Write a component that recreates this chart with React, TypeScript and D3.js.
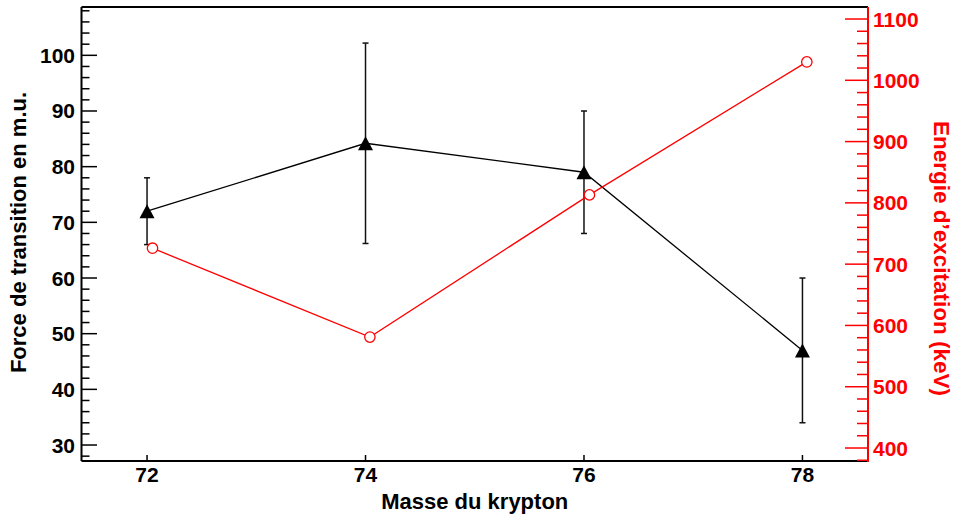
import * as d3 from 'd3';

// Données
const masses = [72, 74, 76, 78];
const forceValues = [72, 84.2, 79, 47];
const forceErrors = [6, 18, 11, 13];
const energyMasses = [72.05, 74.04, 76.05, 78.04];
const energyValues = [726, 581, 813, 1030];

const xTicks = [72, 74, 76, 78];
const leftTicks = [30, 40, 50, 60, 70, 80, 90, 100];
const rightTicks = [400, 500, 600, 700, 800, 900, 1000, 1100];

const W = 957;
const H = 518;
const plot = { left: 81.5, right: 868, top: 7, bottom: 461 };
const FONT = '"Liberation Sans", Arial, Helvetica, sans-serif';
const RED = '#ff0000';

export default function App() {
    const x = d3.scaleLinear().domain([71.4, 78.6]).range([plot.left, plot.right]);
    const yL = d3.scaleLinear().domain([27.13, 108.68]).range([plot.bottom, plot.top]);
    const yR = d3.scaleLinear().domain([378.8, 1119.6]).range([plot.bottom, plot.top]);

    // graduations secondaires
    const leftMinor = d3.range(28, 109, 2).filter((v) => v % 10 !== 0 && yL(v) >= plot.top);
    const rightMinor = d3.range(380, 1120, 20).filter((v) => v % 100 !== 0 && yR(v) >= plot.top);

    const forceData = masses.map((m, i) => ({ m, v: forceValues[i], e: forceErrors[i] }));
    const energyData = energyMasses.map((m, i) => ({ m, v: energyValues[i] }));

    const forceLine = d3.line<any>().x((d) => x(d.m)).y((d) => yL(d.v))(forceData) || '';
    const energyLine = d3.line<any>().x((d) => x(d.m)).y((d) => yR(d.v))(energyData) || '';

    const tri = 'M0,-7L7.5,7L-7.5,7Z';

    return (
        <div style={{ position: 'absolute', left: 0, top: 0 }}>
            <svg width={W} height={H} style={{ display: 'block', background: '#fff' }} fontFamily={FONT}>
                {/* cadre */}
                <line x1={plot.left} x2={plot.right} y1={plot.top} y2={plot.top} stroke="#000" strokeWidth={2} />
                <line x1={plot.left} x2={plot.left} y1={plot.top} y2={plot.bottom} stroke="#000" strokeWidth={2} />
                <line x1={plot.left} x2={plot.right} y1={plot.bottom} y2={plot.bottom} stroke="#000" strokeWidth={2} />

                {/* axe X */}
                {xTicks.map((t) => (
                    <g key={'x' + t}>
                        <line x1={x(t)} x2={x(t)} y1={plot.bottom} y2={plot.bottom - 6} stroke="#000" strokeWidth={1.5} />
                        <text x={x(t)} y={482} textAnchor="middle" fontSize={21} fontWeight="bold">{t}</text>
                    </g>
                ))}
                <text x={(plot.left + plot.right) / 2} y={508.5} textAnchor="middle" fontSize={22} fontWeight="bold">
                    Masse du krypton
                </text>

                {/* axe gauche */}
                {leftTicks.map((t) => (
                    <g key={'l' + t}>
                        <line x1={plot.left} x2={plot.left + 15.5} y1={yL(t)} y2={yL(t)} stroke="#000" strokeWidth={1.5} />
                        <text x={75} y={yL(t) + 7.5} textAnchor="end" fontSize={21} fontWeight="bold">{t}</text>
                    </g>
                ))}
                {leftMinor.map((t) => (
                    <line key={'lm' + t} x1={plot.left} x2={plot.left + 8} y1={yL(t)} y2={yL(t)} stroke="#000" strokeWidth={1.5} />
                ))}
                <text transform={`translate(26,232.5) rotate(-90)`} textAnchor="middle" fontSize={22} fontWeight="bold">
                    Force de transition en m.u.
                </text>

                {/* axe droit (rouge) */}
                <line x1={plot.right} x2={plot.right} y1={plot.top} y2={plot.bottom + 1} stroke={RED} strokeWidth={2} />
                {rightTicks.map((t) => (
                    <g key={'r' + t}>
                        <line x1={plot.right} x2={plot.right - 23} y1={yR(t)} y2={yR(t)} stroke={RED} strokeWidth={1.5} />
                        <text x={873} y={yR(t) + 7.5} fill={RED} fontSize={21} fontWeight="bold">{t}</text>
                    </g>
                ))}
                {rightMinor.map((t) => (
                    <line key={'rm' + t} x1={plot.right} x2={plot.right - 11} y1={yR(t)} y2={yR(t)} stroke={RED} strokeWidth={1.5} />
                ))}
                <text transform={`translate(934,258.5) rotate(90)`} textAnchor="middle" fill={RED} fontSize={22.5} fontWeight="bold">
                    Energie d’excitation (keV)
                </text>

                {/* force de transition avec barres d'erreur */}
                {forceData.map((d) => (
                    <g key={'e' + d.m} stroke="#111" strokeWidth={1.5}>
                        <line x1={x(d.m)} x2={x(d.m)} y1={yL(d.v - d.e)} y2={yL(d.v + d.e)} />
                        <line x1={x(d.m) - 3} x2={x(d.m) + 3} y1={yL(d.v - d.e)} y2={yL(d.v - d.e)} />
                        <line x1={x(d.m) - 3} x2={x(d.m) + 3} y1={yL(d.v + d.e)} y2={yL(d.v + d.e)} />
                    </g>
                ))}
                <path d={forceLine} fill="none" stroke="#000" strokeWidth={1.3} />

                {/* énergie d'excitation */}
                <path d={energyLine} fill="none" stroke={RED} strokeWidth={1.3} />
                {energyData.map((d) => (
                    <circle key={'c' + d.m} cx={x(d.m)} cy={yR(d.v)} r={5.2} fill="#fff" stroke={RED} strokeWidth={1.3} />
                ))}

                {forceData.map((d) => (
                    <path key={'t' + d.m} d={tri} transform={`translate(${x(d.m)},${yL(d.v)})`} fill="#000" />
                ))}
            </svg>
        </div>
    );
}
